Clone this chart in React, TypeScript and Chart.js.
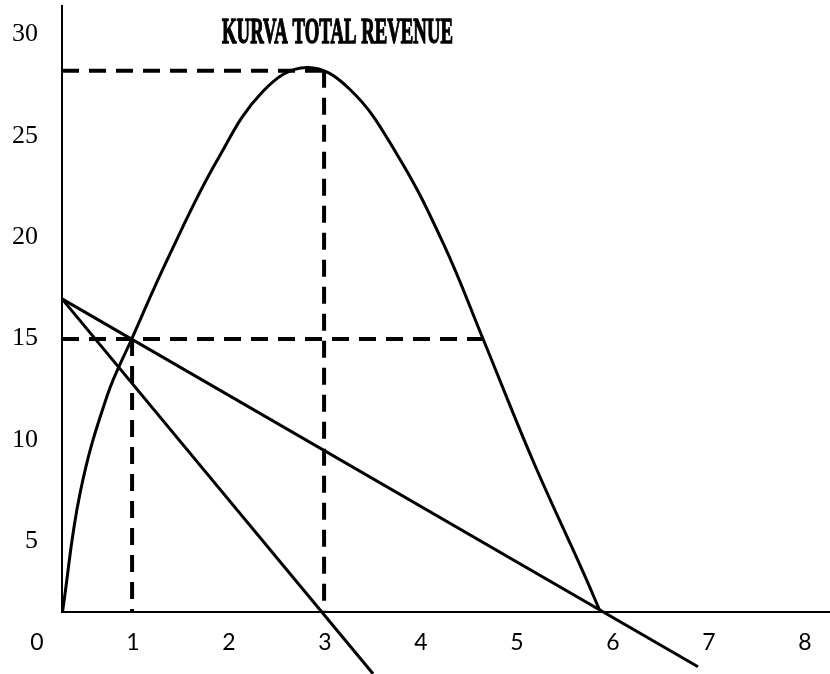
import { useEffect, useRef } from 'react';
import { Chart, registerables } from 'chart.js';

Chart.register(...registerables);

// ---------- text ----------
const CHART_TITLE = 'KURVA TOTAL REVENUE';

// ---------- axes ----------
const xTickValues = [0, 1, 2, 3, 4, 5, 6, 7, 8];
const xTickLabels = ['0', '1', '2', '3', '4', '5', '6', '7', '8'];
const yTickValues = [5, 10, 15, 20, 25, 30];
const yTickLabels = ['5', '10', '15', '20', '25', '30'];

const X_MIN = 0.26;
const X_MAX = 8.26;
const Y_MIN = 1.5;
const Y_MAX = 31.4;

// ---------- series ----------
// Total revenue curve
const trX = [0.265, 0.448, 0.726, 0.986, 1.385, 1.872, 2.354, 2.809, 3.26, 3.747, 4.229, 4.646, 5.167, 5.6875, 5.865];
const trY = [1.5, 7.36, 12.11, 14.97, 19.17, 23.75, 27.19, 28.37, 27.28, 24.1, 19.71, 14.97, 8.95, 3.48, 1.54];

// Average revenue line (shallow)
const arX = [0.26, 6.885];
const arY = [16.95, -1.2];

// Marginal revenue line (steep)
const mrX = [0.26, 3.5];
const mrY = [16.95, -1.55];

// Dashed guide lines
const guideTopX = [0.26, 2.99];
const guideTopY = [28.2, 28.2];
const guideV3X = [2.99, 2.99];
const guideV3Y = [28.2, 1.5];
const guideMidX = [0.26, 4.68];
const guideMidY = [14.97, 14.97];
const guideV1X = [0.99, 0.99];
const guideV1Y = [14.97, 1.5];

const zip = (xs: number[], ys: number[]) => xs.map((x, i) => ({ x, y: ys[i] }));

const condensedTitle = {
  id: 'condensedTitle',
  afterDraw(chart: any) {
    const ctx = chart.ctx as CanvasRenderingContext2D;
    ctx.save();
    ctx.font = 'bold 36px "Liberation Serif", "Times New Roman", serif';
    const w = ctx.measureText(CHART_TITLE).width;
    const sx = 231 / w;
    ctx.translate(337.5, 43);
    ctx.scale(sx, 1);
    ctx.textAlign = 'center';
    ctx.textBaseline = 'alphabetic';
    ctx.fillStyle = '#000';
    ctx.strokeStyle = '#000';
    ctx.lineWidth = 1.4;
    ctx.fillText(CHART_TITLE, 0, 0);
    ctx.strokeText(CHART_TITLE, 0, 0);
    ctx.restore();
  },
};

export default function App() {
  const ref = useRef<HTMLCanvasElement | null>(null);

  useEffect(() => {
    if (!ref.current) return;
    const solid = (data: any[], extra: any = {}) => ({
      data,
      borderColor: '#000',
      borderWidth: 3,
      pointRadius: 0,
      fill: false,
      clip: false,
      tension: 0,
      ...extra,
    });
    const dashed = (data: any[]) => ({
      data,
      borderColor: '#000',
      borderWidth: 4,
      borderDash: [17, 10],
      borderCapStyle: 'butt',
      pointRadius: 0,
      fill: false,
      clip: false,
      tension: 0,
    });

    const chart = new Chart(ref.current, {
      type: 'line',
      data: {
        datasets: [
          dashed(zip(guideTopX, guideTopY)),
          dashed(zip(guideV3X, guideV3Y)),
          dashed(zip(guideMidX, guideMidY)),
          dashed(zip(guideV1X, guideV1Y)),
          solid(zip(trX, trY), { tension: 0.4 }),
          solid(zip(arX, arY)),
          solid(zip(mrX, mrY)),
        ] as any,
      },
      options: {
        animation: false,
        responsive: true,
        maintainAspectRatio: false,
        devicePixelRatio: 1,
        layout: { padding: { top: 6, left: 0, right: 0, bottom: 0 } },
        plugins: {
          legend: { display: false },
          tooltip: { enabled: false },
          title: { display: false },
        },
        events: [],
        scales: {
          x: {
            type: 'linear',
            position: 'bottom',
            min: X_MIN,
            max: X_MAX,
            afterBuildTicks: (s: any) => {
              s.ticks = xTickValues.map((v) => ({ value: v }));
            },
            afterFit: (s: any) => {
              s.height = 62;
              s.paddingLeft = 0;
              s.paddingRight = 0;
              s.paddingTop = 0;
              s.paddingBottom = 0;
            },
            grid: { display: false, drawTicks: false },
            border: { display: true, color: '#000', width: 2 },
            ticks: {
              autoSkip: false,
              maxRotation: 0,
              minRotation: 0,
              padding: 17,
              color: '#000',
              font: { family: 'Lato', size: 23 },
              callback: (_v: any, i: number) => xTickLabels[i],
            },
          },
          y: {
            type: 'linear',
            position: 'left',
            min: Y_MIN,
            max: Y_MAX,
            afterBuildTicks: (s: any) => {
              s.ticks = yTickValues.map((v) => ({ value: v }));
            },
            afterFit: (s: any) => {
              s.width = 62;
              s.paddingTop = 0;
              s.paddingBottom = 0;
              s.paddingLeft = 0;
              s.paddingRight = 0;
            },
            grid: { display: false, drawTicks: false },
            border: { display: true, color: '#000', width: 2 },
            ticks: {
              autoSkip: false,
              padding: 24,
              color: '#000',
              font: { family: '"Liberation Serif"', size: 26 },
              callback: (_v: any, i: number) => yTickLabels[i],
            },
          },
        },
      } as any,
      plugins: [condensedTitle],
    });
    return () => chart.destroy();
  }, []);

  return (
    <div style={{ position: 'absolute', left: 0, top: 0, width: 830, height: 674, background: '#fff' }}>
      <canvas ref={ref} />
    </div>
  );
}
